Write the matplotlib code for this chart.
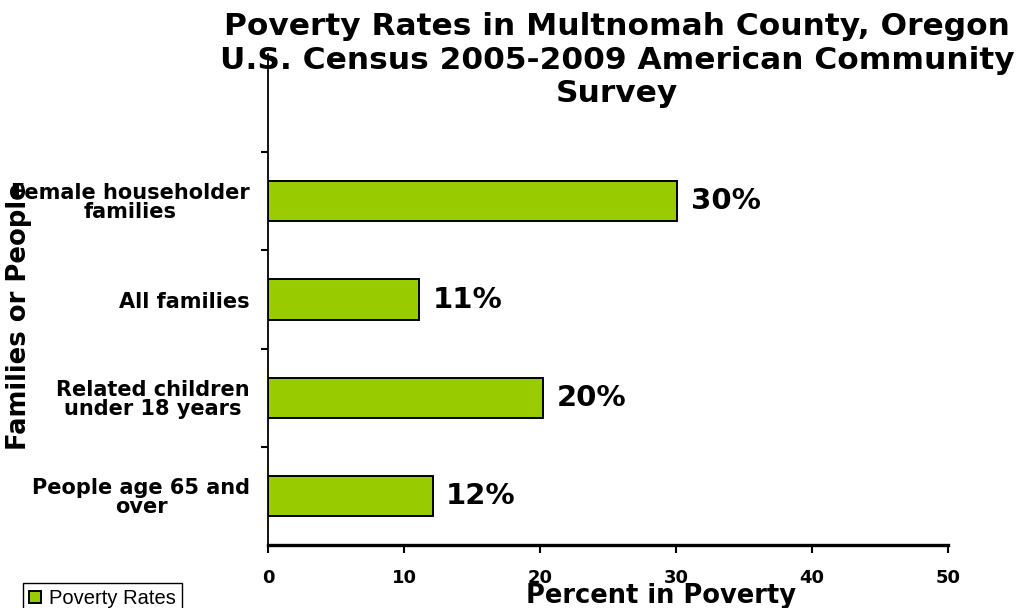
import matplotlib
matplotlib.use("Agg")
import matplotlib.pyplot as plt
from matplotlib.ticker import FixedLocator

# data (bottom to top)
categories = ["People age 65 and\nover", "Related children\nunder 18 years",
              "All families", "Female householder\nfamilies"]
rates = [12.1, 20.2, 11.1, 30.1]
rate_labels = ["12%", "20%", "11%", "30%"]
xticks = [0, 10, 20, 30, 40, 50]

green = "#99CC00"

fig = plt.figure(figsize=(10.26, 6.08), dpi=100)
ax = fig.add_axes([268/1026, 1-545/608, 680/1026, 491/608])

ypos = list(range(len(categories)))
bars = ax.barh(ypos, rates, height=0.41, color=green, edgecolor="black",
               linewidth=1.4, label="Poverty Rates", zorder=3)

for y, v, lab in zip(ypos, rates, rate_labels):
    ax.text(v + 1.0, y, lab, va="center", ha="left", fontsize=21,
            fontweight="bold", family="DejaVu Sans")

ax.set_xlim(0, 50)
ax.set_ylim(-0.5, 4.5)
ax.set_xticks(xticks)
ax.set_xticklabels([str(t) for t in xticks], fontsize=13, fontweight="bold")
ax.set_yticks(ypos)
ax.set_yticklabels(categories, fontsize=15, fontweight="heavy",
                   multialignment="center", linespacing=0.95)
ax.yaxis.set_minor_locator(FixedLocator([0.5, 1.5, 2.5, 3.5]))
ax.tick_params(axis="y", which="major", length=0, pad=13)
ax.tick_params(axis="y", which="minor", length=5, width=1.5, direction="out")
ax.tick_params(axis="x", which="major", length=6, width=1.5, direction="out", pad=11)

for s in ["top", "right"]:
    ax.spines[s].set_visible(False)
ax.spines["left"].set_linewidth(1.3)
ax.spines["bottom"].set_linewidth(2.4)

fig.text(661/1026, 1-603/608, "Percent in Poverty", ha="center", va="baseline",
         fontsize=18.5, fontweight="heavy")
fig.text(19/1026, 1-316/608, "Families or People", rotation=90, ha="center",
         va="center", fontsize=18.6, fontweight="heavy")

fig.text(617/1026, 1-12/608, "Poverty Rates in Multnomah County, Oregon\n"
         "U.S. Census 2005-2009 American Community\nSurvey",
         ha="center", va="top", fontsize=22.5, fontweight="bold",
         linespacing=1.2)

leg = fig.legend(handles=[bars], labels=["Poverty Rates"], loc="upper left",
                 bbox_to_anchor=(23/1026, 1-583/608), fancybox=False,
                 edgecolor="black", framealpha=1,
                 prop={"family": "Liberation Sans", "size": 14.5},
                 handlelength=0.6, handleheight=0.6, handletextpad=0.4,
                 borderpad=0.3, borderaxespad=0)
leg.get_frame().set_linewidth(1.0)

fig.savefig("out.png", dpi=100)
